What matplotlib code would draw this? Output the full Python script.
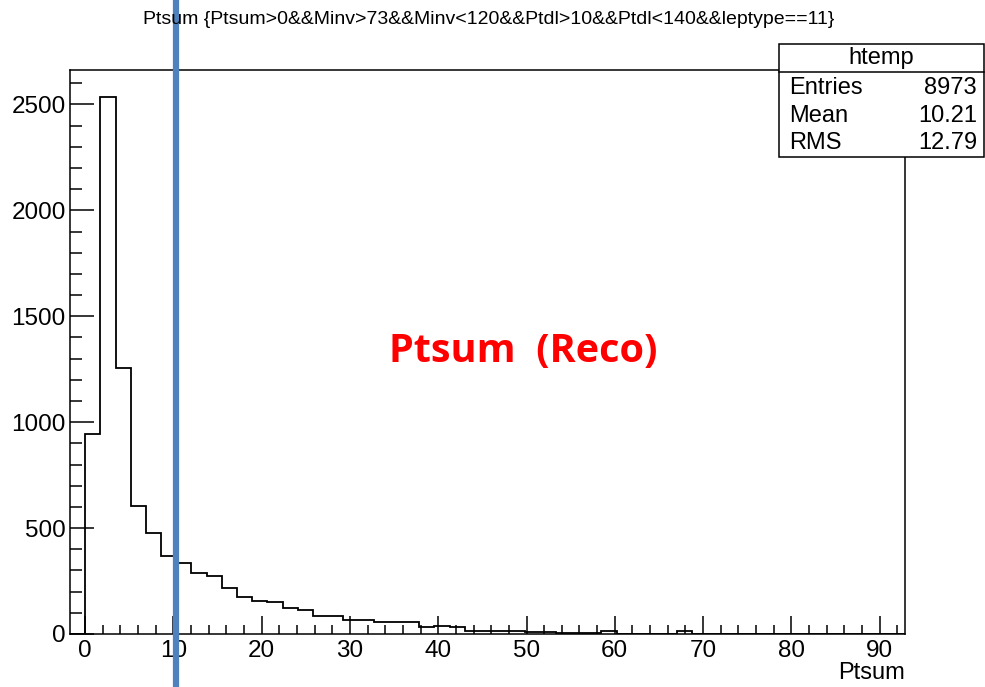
import numpy as np
import matplotlib
matplotlib.use("Agg")
import matplotlib.pyplot as plt
from matplotlib.ticker import MultipleLocator
from matplotlib.patches import Rectangle
from matplotlib.lines import Line2D

plt.rcParams["font.family"] = ["Liberation Sans", "DejaVu Sans"]

# htemp binning (ROOT auto range)
x_lo, x_hi, n_bins = -1.72, 92.88, 55

# bin contents
counts = [0, 946, 2536, 1257, 604, 475, 367, 334, 290, 276,
          215, 177, 157, 149, 122, 113, 86, 86, 66, 66,
          59, 59, 59, 31, 38, 31, 16, 16, 15, 16,
          11, 11, 6, 4, 5, 12, 0, 0, 0, 0,
          15, 0, 0, 0, 0, 0, 0, 0, 0, 0,
          0, 0, 0, 0, 0]

title = "Ptsum {Ptsum>0&&Minv>73&&Minv<120&&Ptdl>10&&Ptdl<140&&leptype==11}"
stats_name = "htemp"
stats_rows = [("Entries", "8973"), ("Mean", "10.21"), ("RMS", "12.79")]
cut_value = 10.25

W, H = 985, 687


def fx(x):
    return x / W


def fy(y):
    return 1 - y / H


fig = plt.figure(figsize=(W / 100, H / 100), dpi=100)
ax = fig.add_axes([fx(70), fy(634), fx(905) - fx(70), fy(70) - fy(634)])

edges = np.linspace(x_lo, x_hi, n_bins + 1)
ax.stairs(counts, edges, color="black", linewidth=1.3, baseline=0)

ax.set_xlim(x_lo, x_hi)
ax.set_ylim(0, max(counts) * 1.05)
ax.xaxis.set_major_locator(MultipleLocator(10))
ax.xaxis.set_minor_locator(MultipleLocator(2))
ax.yaxis.set_major_locator(MultipleLocator(500))
ax.yaxis.set_minor_locator(MultipleLocator(100))
ax.tick_params(axis="x", which="major", direction="in", length=13, width=1.1, labelsize=17.5, pad=4)
ax.tick_params(axis="x", which="minor", direction="in", length=6.5, width=1.1)
ax.tick_params(axis="y", which="major", direction="in", length=17, width=1.1, labelsize=17.5, pad=3)
ax.tick_params(axis="y", which="minor", direction="in", length=8.5, width=1.1)
for s in ax.spines.values():
    s.set_linewidth(1.1)

# x title sits under the right end of the axis, like ROOT does
fig.text(fx(905), fy(673), "Ptsum", ha="right", va="center", fontsize=17)

fig.text(fx(489), fy(20), title, ha="center", va="center", fontsize=14)

ax.text(0.543, 0.50, "Ptsum  (Reco)", transform=ax.transAxes, ha="center", va="center",
        color="red", fontsize=28.5, fontweight="bold", family="Open Sans")

# stats box
fig.patches.append(Rectangle((fx(779), fy(157)), fx(984) - fx(779), fy(44) - fy(157),
                             transform=fig.transFigure, facecolor="white", edgecolor="black",
                             linewidth=1.1, zorder=5))
fig.add_artist(Line2D([fx(779), fx(984)], [fy(72), fy(72)], color="black", linewidth=1.1, zorder=6))
fig.text(fx(881), fy(58), stats_name, ha="center", va="center", fontsize=17, zorder=7)
for i, (k, v) in enumerate(stats_rows):
    yy = fy(88 + i * 27.5)
    fig.text(fx(789), yy, k, ha="left", va="center", fontsize=17, zorder=7)
    fig.text(fx(977), yy, v, ha="right", va="center", fontsize=17, zorder=7)

# blue marker line running through the whole picture
ax.axvline(cut_value, ymin=-0.1, ymax=1.13, color="#4F81BD", linewidth=4.5, clip_on=False, zorder=10)

fig.savefig("out.png", dpi=100)
